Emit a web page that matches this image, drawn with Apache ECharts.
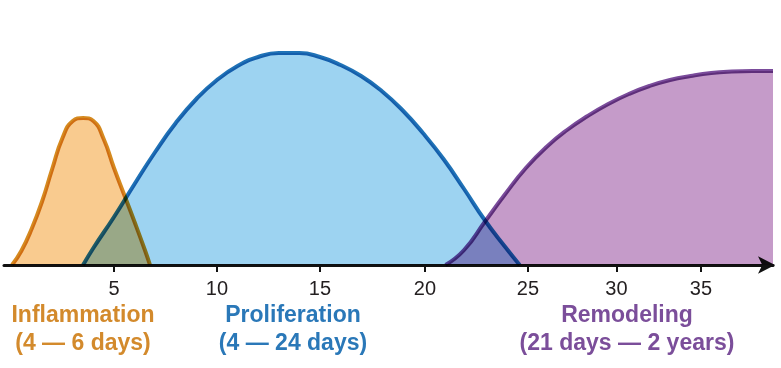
<!DOCTYPE html>
<html>
<head>
<meta charset="utf-8">
<script src="https://cdn.jsdelivr.net/npm/echarts@6/dist/echarts.min.js"></script>
<style>
  html, body { margin: 0; padding: 0; background: #fff; }
  #chart { width: 781px; height: 368px; }
</style>
</head>
<body>
<div id="chart"></div>
<script>
// days (x) and relative level (y)
var inflDays = [0.05, 0.5, 1, 1.5, 2, 2.5, 3, 3.5, 4, 4.5, 5, 5.5, 6, 6.5, 6.75];
var inflLevel = [0, 14, 36, 63, 96, 127, 144, 147, 144, 126, 97, 70, 43, 15, 0];

var prolDays = [3.5, 4, 5, 6, 7, 8, 9, 10, 11, 12, 13, 14, 15, 16, 17, 18, 19, 20, 21, 22, 23, 24, 24.7];
var prolLevel = [0, 17, 48, 81, 113, 142, 166, 185, 199, 208, 212, 212, 208, 200, 189, 174, 155, 132, 106, 76, 45, 18, 0];

var remoDays = [21.1, 22, 23, 24, 25, 26, 27, 28, 29, 30, 31, 32, 33, 34, 35, 36, 37];
var remoLevel = [0, 15, 43, 71, 97, 118, 135, 149, 161, 171, 179, 185, 189, 192, 193.5, 194, 194];

// tick positions (the original axis is squeezed past 25) and their labels
var tickAt = [5, 10, 15, 20.1, 25.1, 29.4, 33.5];
var tickText = ['5', '10', '15', '20', '25', '30', '35'];

function pairs(xs, ys) {
  var out = [];
  for (let i = 0; i < xs.length; i++) out.push([xs[i], ys[i]]);
  return out;
}

var chart = echarts.init(document.getElementById('chart'));
var font = '"Liberation Sans", Arial, sans-serif';

function phase(name, data, line, fill) {
  return {
    name: name,
    type: 'line',
    data: data,
    smooth: 0.5,
    symbol: 'none',
    blendMode: 'multiply',
    lineStyle: { color: line, width: 4 },
    areaStyle: { color: fill, opacity: 1 },
    silent: true
  };
}

function caption(x, text, color) {
  return {
    type: 'text', x: x, y: 302,
    style: { text: text, fill: color, font: 'bold 23px ' + font, align: 'center', verticalAlign: 'top', lineHeight: 28 }
  };
}

var option = {
  animation: false,
  backgroundColor: '#fff',
  grid: { left: 4, right: 8, top: 15, bottom: 103 },
  xAxis: {
    type: 'value',
    min: -0.34,
    max: 37,
    splitLine: { show: false },
    axisLine: {
      lineStyle: { color: '#111', width: 3 },
      symbol: ['none', 'arrow'],
      symbolSize: [13, 17],
      symbolOffset: [0, 2]
    },
    axisTick: { show: true, customValues: tickAt, length: 7, lineStyle: { color: '#111', width: 2 } },
    axisLabel: {
      customValues: tickAt,
      margin: 14,
      fontSize: 20,
      color: '#231f20',
      fontFamily: font,
      formatter: function (v) {
        var i = tickAt.indexOf(v);
        return i >= 0 ? tickText[i] : '';
      }
    }
  },
  yAxis: { type: 'value', min: 0, max: 250, show: false },
  series: [
    phase('Inflammation', pairs(inflDays, inflLevel), '#d58a1f', '#f9cb8f'),
    phase('Proliferation', pairs(prolDays, prolLevel), '#1f72b6', '#9dd3f1'),
    phase('Remodeling', pairs(remoDays, remoLevel), '#7a4b9b', '#c59bc9')
  ],
  graphic: [
    caption(83, 'Inflammation\n(4 — 6 days)', '#d38a2c'),
    caption(293, 'Proliferation\n(4 — 24 days)', '#2a78b8'),
    caption(627, 'Remodeling\n(21 days — 2 years)', '#7b4e9a')
  ]
};

chart.setOption(option);
</script>
</body>
</html>
